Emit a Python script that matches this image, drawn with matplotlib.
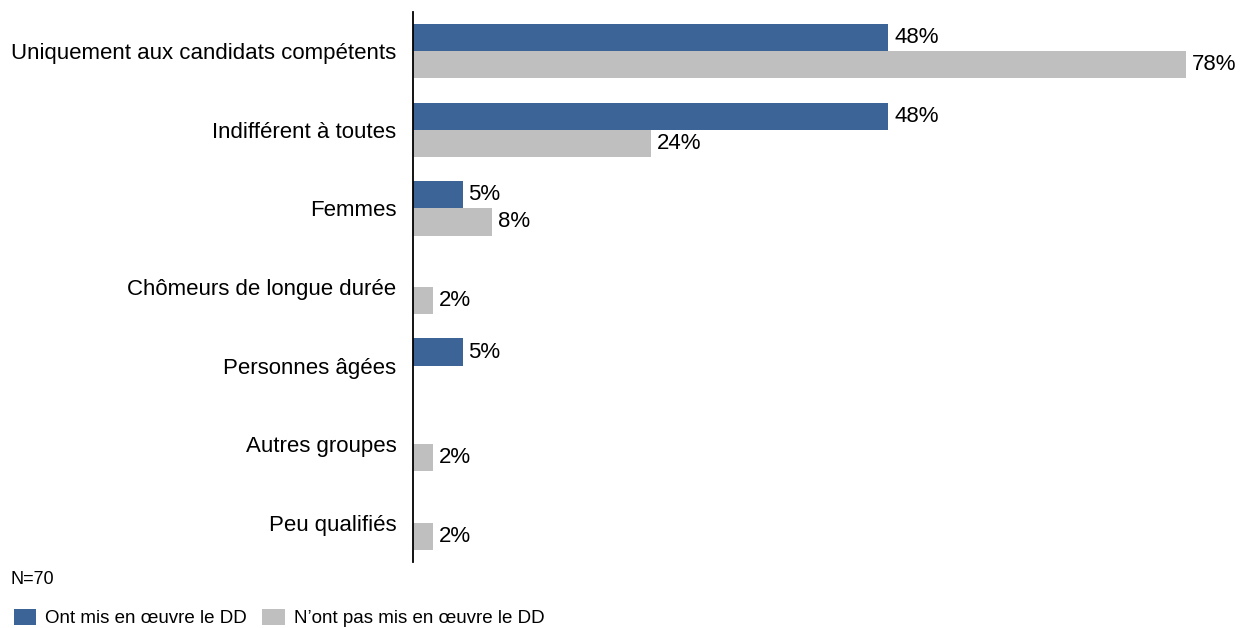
import numpy as np
import matplotlib.pyplot as plt
from matplotlib.patches import Patch

plt.rcParams['font.family'] = ['Liberation Sans', 'DejaVu Sans']

categories = ['Uniquement aux candidats compétents', 'Indifférent à toutes', 'Femmes',
              'Chômeurs de longue durée', 'Personnes âgées', 'Autres groupes', 'Peu qualifiés']
dd_oui = [48, 48, 5, None, 5, None, None]
dd_non = [78, 24, 8, 2, None, 2, 2]
series_names = ['Ont mis en œuvre le DD', 'N’ont pas mis en œuvre le DD']
colors = ['#3c6496', '#bfbfbf']

fig = plt.figure(figsize=(12.48, 6.28), dpi=100)
ax = fig.add_axes([413 / 1248, 1 - 562 / 628, 827 / 1248, 550 / 628])

y = np.arange(len(categories))
h = 0.345
for vals, off, col in [(dd_oui, -h / 2, colors[0]), (dd_non, h / 2, colors[1])]:
    for i, v in enumerate(vals):
        if v is None:
            continue
        ax.barh(y[i] + off, v, height=h, color=col)
        ax.text(v + 0.6, y[i] + off, f'{v}%', va='center', ha='left', fontsize=16)

ax.set_ylim(len(categories) - 0.5, -0.5)
ax.set_xlim(0, 83.5)
ax.set_yticks(y)
ax.set_yticklabels(categories, fontsize=16)
ax.tick_params(axis='y', length=0, pad=12)
ax.set_xticks([])
for s in ['top', 'right', 'bottom']:
    ax.spines[s].set_visible(False)
ax.spines['left'].set_linewidth(1.3)

fig.text(10 / 1248, 1 - 580 / 628, 'N=70', fontsize=13, va='center', ha='left')
handles = [Patch(facecolor=c, edgecolor='none') for c in colors]
fig.legend(handles, series_names, loc='center left', bbox_to_anchor=(6 / 1248, 1 - 618 / 628),
           ncol=2, frameon=False, fontsize=13.5, handlelength=1.2, handleheight=1.0,
           handletextpad=0.5, columnspacing=0.8, borderaxespad=0)

fig.savefig('out.png', dpi=100)
